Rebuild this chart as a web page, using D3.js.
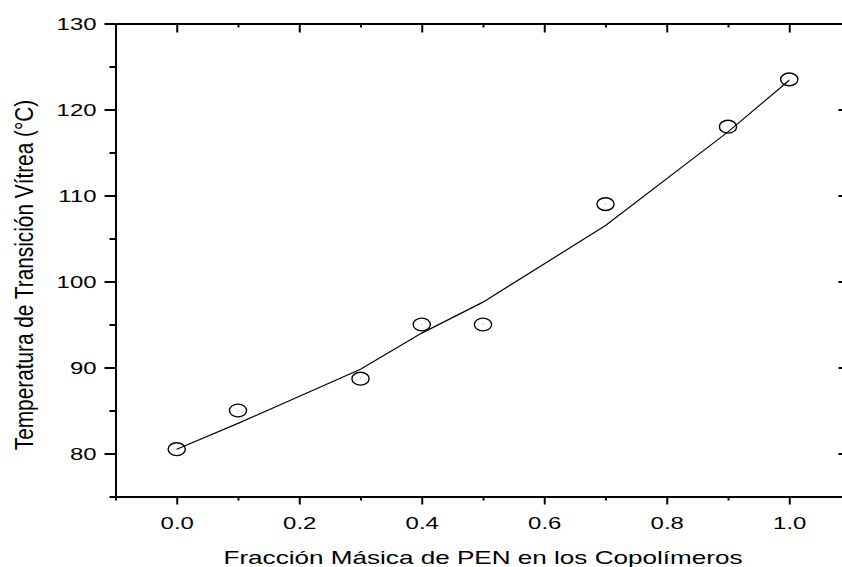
<!DOCTYPE html>
<html>
<head>
<meta charset="utf-8">
<script src="https://cdn.jsdelivr.net/npm/d3@7"></script>
<style>
  html, body { margin: 0; padding: 0; background: #fff; }
  svg { display: block; }
  text { font-family: "Liberation Sans", Arial, sans-serif; fill: #000; }
</style>
</head>
<body>
<svg id="chart" width="842" height="567"></svg>
<script>
// Mass fraction of PEN in the copolymers and measured glass transition temperature
const fraction = [0.0, 0.1, 0.3, 0.4, 0.5, 0.7, 0.9, 1.0];
const tgMeasured = [80.5, 85.0, 88.7, 95.0, 95.0, 109.0, 118.0, 123.5];
// Fitted curve evaluated at the same fractions
const tgFit = [80.5, 83.5, 89.8, 94.0, 97.6, 106.5, 117.4, 123.4];

const xMajorTicks = [0.0, 0.2, 0.4, 0.6, 0.8, 1.0];
const xMinorTicks = [-0.1, 0.1, 0.3, 0.5, 0.7, 0.9, 1.1];
const yMajorTicks = [80, 90, 100, 110, 120, 130];
const yMinorTicks = [75, 85, 95, 105, 115, 125];

const xTitle = "Fracción Másica de PEN en los Copolímeros";
const yTitle = "Temperatura de Transición Vítrea (°C)";

const svg = d3.select("#chart");
const STRETCH = 1.45;   // wide lettering

const x = d3.scaleLinear().domain([-0.1, 1.1]).range([115.5, 850.5]);
const y = d3.scaleLinear().domain([75, 130]).range([496.5, 23.5]);

const fmtX = d3.format(".1f");
const fmtY = d3.format("d");

function styleAxis(g) {
  g.select(".domain").attr("stroke", "#000").attr("stroke-width", 2);
  g.selectAll(".tick line").attr("stroke", "#000").attr("stroke-width", 2);
}

// Bottom axis: outward ticks
const bottomMinor = svg.append("g").attr("transform", `translate(0,${y(75)})`)
  .call(d3.axisBottom(x).tickValues(xMinorTicks).tickSize(4).tickSizeOuter(0).tickFormat(""));
styleAxis(bottomMinor);
const bottom = svg.append("g").attr("transform", `translate(0,${y(75)})`)
  .call(d3.axisBottom(x).tickValues(xMajorTicks).tickSize(8).tickSizeOuter(0).tickFormat(fmtX));
styleAxis(bottom);
bottom.selectAll(".tick text")
  .attr("font-size", 16.5).attr("y", 0).attr("dy", 0)
  .attr("transform", `translate(0,32) scale(${STRETCH},1)`);

// Top axis: inward ticks
const topMinor = svg.append("g").attr("transform", `translate(0,${y(130)})`)
  .call(d3.axisTop(x).tickValues(xMinorTicks).tickSize(-4).tickSizeOuter(0).tickFormat(""));
styleAxis(topMinor);
const topMajor = svg.append("g").attr("transform", `translate(0,${y(130)})`)
  .call(d3.axisTop(x).tickValues(xMajorTicks).tickSize(-9).tickSizeOuter(0).tickFormat(""));
styleAxis(topMajor);

// Left axis: outward ticks
const leftMinor = svg.append("g").attr("transform", `translate(${x(-0.1)},0)`)
  .call(d3.axisLeft(y).tickValues(yMinorTicks).tickSize(6).tickSizeOuter(0).tickFormat(""));
styleAxis(leftMinor);
const left = svg.append("g").attr("transform", `translate(${x(-0.1)},0)`)
  .call(d3.axisLeft(y).tickValues(yMajorTicks).tickSize(11).tickSizeOuter(0).tickFormat(fmtY));
styleAxis(left);
left.selectAll(".tick text")
  .attr("font-size", 16.5).attr("x", 0).attr("dy", "0.36em")
  .attr("transform", `translate(-19,0) scale(${STRETCH},1)`);

// Right axis: inward ticks
const rightMinor = svg.append("g").attr("transform", `translate(${x(1.1)},0)`)
  .call(d3.axisRight(y).tickValues(yMinorTicks).tickSize(-5).tickSizeOuter(0).tickFormat(""));
styleAxis(rightMinor);
const rightMajor = svg.append("g").attr("transform", `translate(${x(1.1)},0)`)
  .call(d3.axisRight(y).tickValues(yMajorTicks).tickSize(-12).tickSizeOuter(0).tickFormat(""));
styleAxis(rightMajor);

// Fitted curve
const pts = fraction.map((f, i) => [f, tgFit[i]]);
svg.append("path")
  .datum(pts)
  .attr("fill", "none")
  .attr("stroke", "#000")
  .attr("stroke-width", 1.2)
  .attr("d", d3.line().x(d => x(d[0])).y(d => y(d[1])));

// Measured points: open markers
const marks = svg.append("g");
fraction.forEach((f, i) => {
  marks.append("ellipse")
    .attr("cx", x(f)).attr("cy", y(tgMeasured[i]))
    .attr("rx", 8.6).attr("ry", 6.4)
    .attr("fill", "none").attr("stroke", "#000").attr("stroke-width", 1.4);
  marks.append("circle")
    .attr("cx", x(f)).attr("cy", y(tgMeasured[i]))
    .attr("r", 0.6).attr("fill", "#aaa");
});

// Axis titles
svg.append("text")
  .attr("text-anchor", "middle")
  .attr("font-size", 18)
  .attr("transform", `translate(${(x(-0.1) + x(1.1)) / 2},564) scale(${STRETCH},1)`)
  .text(xTitle);

svg.append("text")
  .attr("text-anchor", "middle")
  .attr("font-size", 20.8)
  .attr("transform", `translate(33,275) rotate(-90) scale(1,1.2)`)
  .text(yTitle);
</script>
</body>
</html>
